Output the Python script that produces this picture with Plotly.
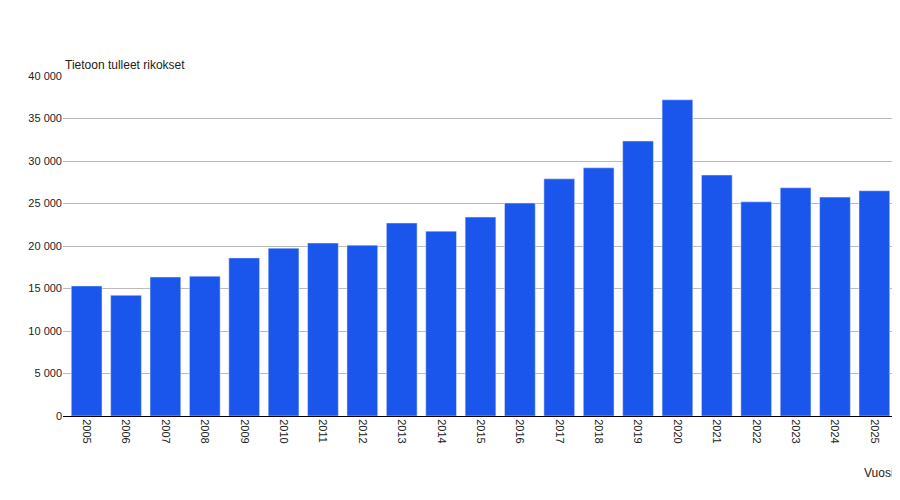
import plotly.graph_objects as go

years = [str(y) for y in range(2005, 2026)]
values = [15300, 14200, 16350, 16450, 18600, 19750, 20350, 20100, 22700, 21750,
          23400, 25050, 27900, 29200, 32350, 37200, 28350, 25200, 26850, 25750, 26500]
y_ticks = [0, 5000, 10000, 15000, 20000, 25000, 30000, 35000, 40000]

fig = go.Figure(go.Bar(x=years, y=values, marker_color="#1a56eb", width=0.78))
fig.update_layout(
    width=900, height=500, plot_bgcolor="white", paper_bgcolor="white",
    margin=dict(l=55, r=10, t=68, b=92, autoexpand=False),
    font=dict(family="Arial, Liberation Sans", size=12, color="#222"),
    separators=", ", showlegend=False,
    xaxis=dict(tickangle=90, showline=True, linecolor="black", ticks="", automargin=False,
               tickfont=dict(size=11), range=[-0.6, 20.6]),
    yaxis=dict(range=[0, 40000], tickvals=y_ticks, tickformat=",d", gridcolor="#bbbbbb",
               zeroline=False, ticks="", automargin=False, tickfont=dict(size=11)),
    annotations=[
        dict(text="Tietoon tulleet rikokset", xref="paper", yref="paper", x=0, y=1.005,
             xanchor="left", yanchor="bottom", showarrow=False, font=dict(size=12)),
        dict(text="Vuosi", xref="paper", yref="paper", x=0.998, y=-0.14,
             xanchor="right", yanchor="top", showarrow=False, font=dict(size=12)),
    ],
)
fig.write_html("out.html")
